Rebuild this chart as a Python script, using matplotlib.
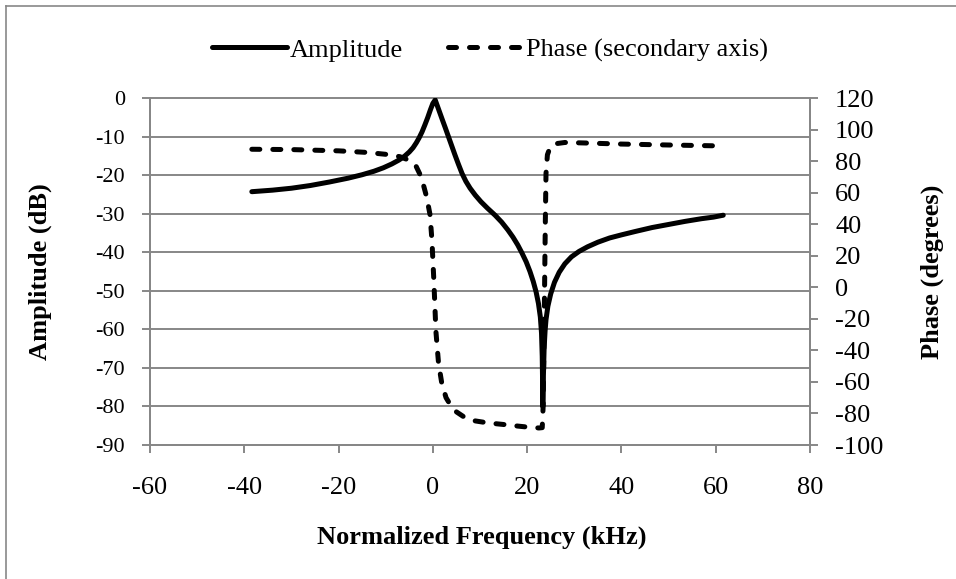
import matplotlib
matplotlib.use('Agg')
import matplotlib.pyplot as plt
from matplotlib.lines import Line2D

# ---------------- data ----------------
amp_freq = [-38.4, -34, -30, -26, -22, -18, -15, -12.5, -10.5, -8.7, -7.2, -6.0, -5.0,
            -4.2, -3.5, -2.9, -2.3, -1.7, -1.1, -0.5, 0.0, 0.5,
            1.0, 1.5, 2.0, 2.6, 3.3, 4.0, 4.7, 5.4, 6.2, 7.0, 7.9, 9.0, 10.2, 11.6,
            13.2, 14.6, 15.9, 17.0, 18.0, 18.9, 19.8, 20.6, 21.3, 21.9, 22.4, 22.8,
            23.05, 23.2, 23.28, 23.32,
            23.45, 23.6, 23.8, 24.0, 24.4, 25.0, 25.8, 26.8, 28.0, 29.4, 31.0, 32.8,
            35.0, 37.5, 40.0, 43.0, 46.5, 50.0, 53.5, 57.0, 59.5, 61.6]
amp_db = [-24.3, -23.9, -23.4, -22.7, -21.8, -20.8, -19.9, -19.0, -18.1, -17.1, -16.1, -15.1, -14.0,
          -12.9, -11.6, -10.3, -8.8, -7.0, -5.1, -3.0, -1.4, -0.5,
          -2.2, -3.9, -5.6, -7.6, -10.0, -12.4, -14.8, -17.1, -19.6, -21.6, -23.4, -25.2, -26.9, -28.6,
          -30.4, -32.2, -34.2, -36.1, -38.1, -40.2, -42.5, -45.0, -47.6, -50.3, -53.3, -56.8,
          -61.0, -67.0, -74.0, -80.0,
          -72.0, -65.0, -60.5, -57.5, -54.0, -50.8, -47.8, -45.2, -43.0, -41.2, -39.8, -38.6,
          -37.4, -36.3, -35.5, -34.6, -33.6, -32.8, -32.0, -31.3, -30.9, -30.4]

phase_freq = [-38.4, -30, -20, -14, -10, -7, -5, -3.6, -2.8, -2.1, -1.3, -0.6, -0.2, 0.2,
              0.65, 1.2, 1.9, 2.8, 3.8, 5, 6.5, 8.5, 11.7, 15, 18, 20.6, 22.5, 23.2, 23.4,
              23.55, 23.7, 23.85, 24.0, 24.3, 24.9, 26, 28, 32, 40, 50, 61.5]
phase_deg = [87.5, 87.3, 86.5, 85.5, 84.3, 82.8, 80.5, 77, 72, 66, 57, 46, 30, 5,
             -28, -48, -61, -70, -75, -79, -82, -84.5, -86, -87, -88, -88.8, -89.2, -89, -75,
             -40, 0, 40, 72, 84, 89, 91, 91.8, 91.5, 90.8, 90.2, 89.6]

x_ticks = [-60, -40, -20, 0, 20, 40, 60, 80]
amp_ticks = [-90, -80, -70, -60, -50, -40, -30, -20, -10, 0]
phase_ticks = [-100, -80, -60, -40, -20, 0, 20, 40, 60, 80, 100, 120]

amp_label = 'Amplitude'
phase_label = 'Phase (secondary axis)'

# ---------------- style ----------------
plt.rcParams['font.family'] = ['Liberation Serif', 'DejaVu Serif']
GRAY = '#878787'
W, H = 956, 579

fig = plt.figure(figsize=(W / 100, H / 100), dpi=100)
ax = fig.add_axes([150 / W, 1 - 445 / H, 660 / W, 347 / H])
ax2 = ax.twinx()

ax.set_xlim(-60, 80)
ax.set_ylim(-90, 0)
ax2.set_ylim(-100, 120)
ax.set_xticks(x_ticks)
ax.set_yticks(amp_ticks)
ax2.set_yticks(phase_ticks)
ax.set_xticklabels([str(t) for t in x_ticks])
ax.set_yticklabels([str(t) for t in amp_ticks])
ax2.set_yticklabels([str(t) for t in phase_ticks])

ax.yaxis.grid(True, color=GRAY, lw=1.4, clip_on=False)
ax.set_axisbelow(True)

for a in (ax, ax2):
    a.spines['top'].set_visible(False)
    for s in ('left', 'right', 'bottom'):
        a.spines[s].set_color(GRAY)
        a.spines[s].set_linewidth(1.4)
    a.patch.set_visible(False)

ax.tick_params(axis='y', direction='out', length=6, width=1.4, color=GRAY,
               labelsize=16, pad=12)
ax.tick_params(axis='x', direction='out', length=6, width=1.4, color=GRAY,
               labelsize=19, pad=17)
ax2.tick_params(axis='y', direction='out', length=6, width=1.4, color=GRAY,
                labelsize=19, pad=12)

ax.plot(amp_freq, amp_db, color='black', lw=3.6,
        solid_capstyle='round', solid_joinstyle='round')
ax2.plot(phase_freq, phase_deg, color='black', lw=3.6,
         linestyle=(0, (1.6, 2.6)), dash_capstyle='round', dash_joinstyle='round')

# axis titles
fig.text(482 / W, 1 - 537 / H, 'Normalized Frequency (kHz)', ha='center', va='center',
         fontsize=19, fontweight='bold')
fig.text(40 / W, 1 - 272 / H, 'Amplitude (dB)', ha='center', va='center',
         fontsize=19, fontweight='bold', rotation=90)
fig.text(932 / W, 1 - 272 / H, 'Phase (degrees)', ha='center', va='center',
         fontsize=19, fontweight='bold', rotation=90)

# legend
h1 = Line2D([], [], color='black', lw=3.6, solid_capstyle='round')
h2 = Line2D([], [], color='black', lw=3.6, linestyle=(0, (1.6, 2.6)), dash_capstyle='round')
fig.legend([h1, h2], [amp_label, phase_label], loc='center',
           bbox_to_anchor=(490 / W, 1 - 50 / H), ncol=2, frameon=False,
           handlelength=2.85, handletextpad=0.1, columnspacing=1.7, fontsize=19,
           borderpad=0, borderaxespad=0)

# chart-area border (left and top visible)
fig.add_artist(Line2D([6 / W, 6 / W], [0, 1 - 6 / H], transform=fig.transFigure,
                      color=GRAY, lw=1.2))
fig.add_artist(Line2D([6 / W, 1], [1 - 6 / H, 1 - 6 / H], transform=fig.transFigure,
                      color=GRAY, lw=1.2))

fig.savefig('out.png', dpi=100)
